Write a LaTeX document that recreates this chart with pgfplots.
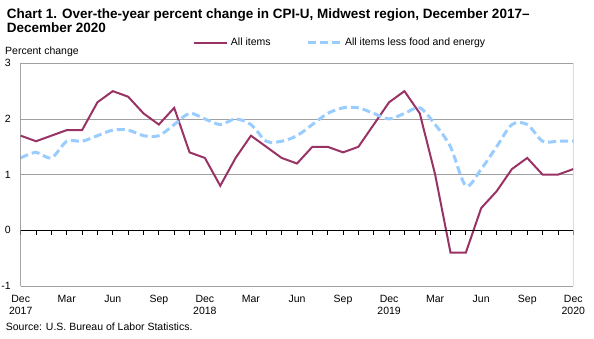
\documentclass[border=0pt]{standalone}
\usepackage{pgfplots}
\pgfplotsset{compat=1.18}
\usepackage{fontspec}
\setmainfont{Liberation Sans}
\definecolor{allitems}{HTML}{993366}
\definecolor{core}{HTML}{99CCFF}
\definecolor{gridgray}{HTML}{A0A0A0}
\newcommand\lbl{\fontsize{10.5bp}{12.3bp}\selectfont}
\begin{document}
\begin{tikzpicture}
\useasboundingbox (0,0) rectangle (594bp,339bp);
\node[anchor=base west, inner sep=0pt, font=\fontsize{13.5bp}{13.7bp}\selectfont\bfseries] at (6.7bp,320bp) {Chart 1. Over-the-year percent change in CPI-U, Midwest region, December 2017--};
\node[anchor=base west, inner sep=0pt, font=\fontsize{13.5bp}{13.7bp}\selectfont\bfseries] at (6.7bp,306.3bp) {December 2020};
\node[anchor=base west, inner sep=0pt, font=\lbl] at (5bp,284.7bp) {Percent change};
\node[anchor=base west, inner sep=0pt, font=\lbl] at (5.7bp,8.3bp) {Source: U.S. Bureau of Labor Statistics.};
\begin{axis}[
  scale only axis, width=552.6bp, height=222.7bp,
  at={(20.7bp,53bp)}, anchor=south west,
  xmin=0, xmax=36, ymin=-1, ymax=3,
  xtick={0,3,...,36},
  xticklabels={{Dec\\2017},Mar,Jun,Sep,{Dec\\2018},Mar,Jun,Sep,{Dec\\2019},Mar,Jun,Sep,{Dec\\2020}},
  ytick={-1,0,1,2,3}, yticklabels={-1,0,1,2,3},
  ymajorgrids, grid style={draw=gridgray, line width=0.75bp},
  axis line style={draw=none},
  major tick length=0pt,
  xticklabel style={font=\lbl, align=center, inner sep=0pt, anchor=north, yshift=-9bp},
  yticklabel style={font=\lbl, inner sep=0pt, anchor=east, xshift=-9.7bp},
  legend columns=2,
  legend style={at={(0.3123,1.0925)}, anchor=west, draw=none, fill=none, font=\lbl, inner sep=0pt,
    /tikz/every odd column/.append style={column sep=0.5bp},
    /tikz/every even column/.append style={column sep=34bp}},
  legend image code/.code={\draw[#1] (0bp,0bp) -- (33bp,0bp);},
]
\addplot[allitems, line width=2bp] coordinates {
(0,1.7)(1,1.6)(2,1.7)(3,1.8)(4,1.8)(5,2.3)(6,2.5)(7,2.4)(8,2.1)(9,1.9)(10,2.2)(11,1.4)
(12,1.3)(13,0.8)(14,1.3)(15,1.7)(16,1.5)(17,1.3)(18,1.2)(19,1.5)(20,1.5)(21,1.4)(22,1.5)(23,1.9)
(24,2.3)(25,2.5)(26,2.1)(27,1.0)(28,-0.4)(29,-0.4)(30,0.4)(31,0.7)(32,1.1)(33,1.3)(34,1.0)(35,1.0)(36,1.1)};
\addlegendentry{All items}
\addplot[core, line width=3bp, dash pattern=on 8bp off 4bp, smooth] coordinates {
(0,1.3)(1,1.4)(2,1.3)(3,1.6)(4,1.6)(5,1.7)(6,1.8)(7,1.8)(8,1.7)(9,1.7)(10,1.9)(11,2.1)
(12,2.0)(13,1.9)(14,2.0)(15,1.9)(16,1.6)(17,1.6)(18,1.7)(19,1.9)(20,2.1)(21,2.2)(22,2.2)(23,2.1)
(24,2.0)(25,2.1)(26,2.2)(27,1.9)(28,1.5)(29,0.8)(30,1.1)(31,1.5)(32,1.9)(33,1.9)(34,1.6)(35,1.6)(36,1.6)};
\addlegendentry{All items less food and energy}
\draw[gridgray, line width=0.75bp] (rel axis cs:1,0) -- (rel axis cs:1,1);
\draw[black, line width=0.9bp] (rel axis cs:0,0) -- (rel axis cs:0,1);
\draw[black, line width=0.9bp] (axis cs:0,0) -- (axis cs:36,0);
\pgfplotsinvokeforeach{0,...,36}{\draw[black, line width=0.9bp] (axis cs:#1,0) -- ([yshift=-5bp]axis cs:#1,0);}
\end{axis}
\end{tikzpicture}
\end{document}
